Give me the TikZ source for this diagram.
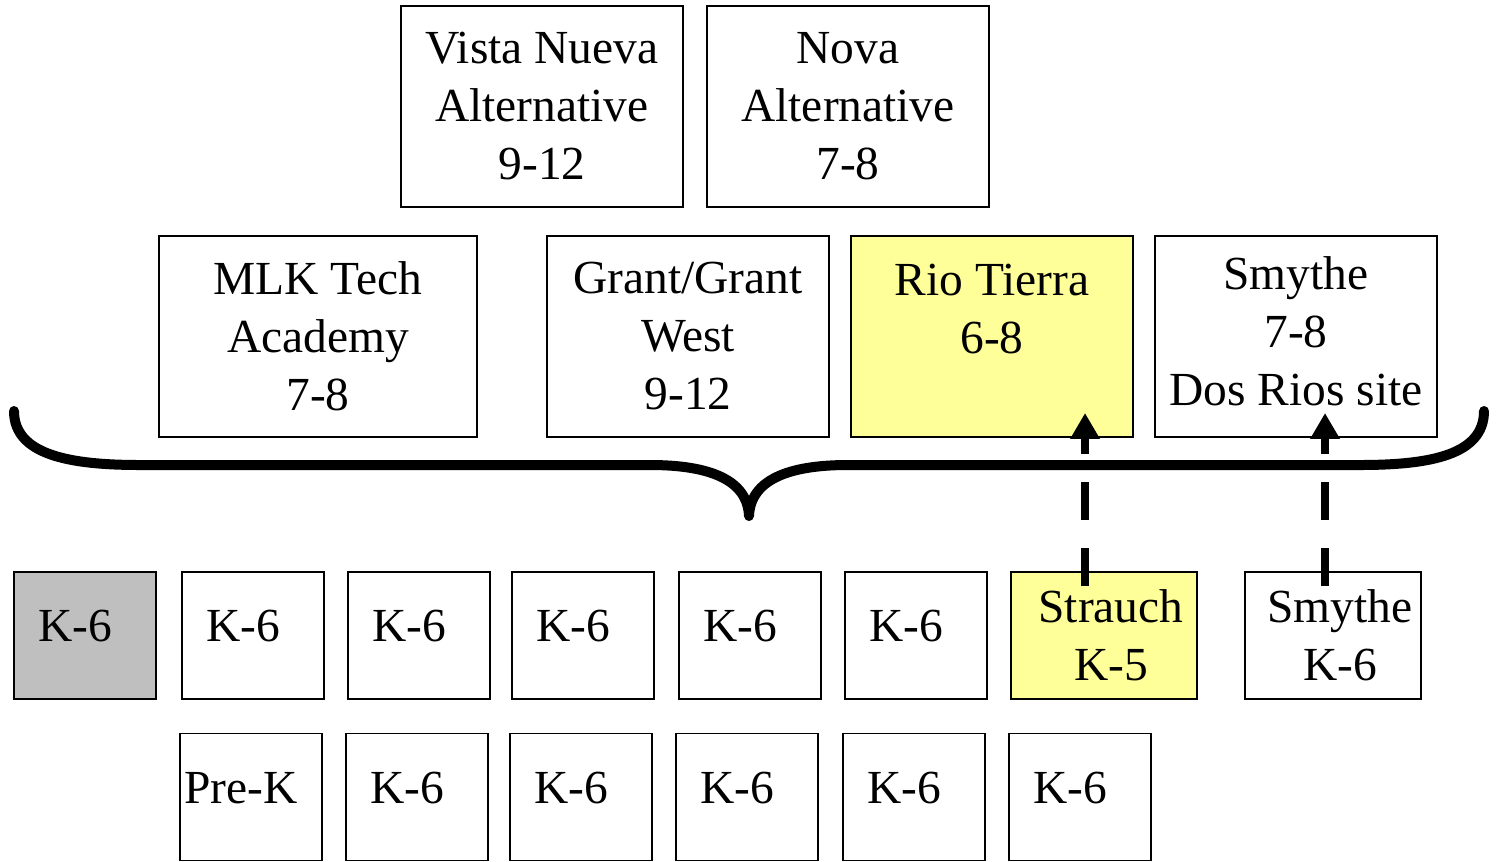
\documentclass[tikz,border=0pt]{standalone}
\usepackage{fontspec}
\setmainfont{Liberation Serif}
\usepackage{tikz}
\usetikzlibrary{calc,arrows.meta,positioning}
\definecolor{paleyellow}{rgb}{1.0, 1.0, 0.6}
\definecolor{silvergray}{rgb}{0.75, 0.75, 0.75}

\begin{document}
\begin{tikzpicture}
        \tikzstyle{school}=[draw,line width=1.1pt,minimum width=5.64cm,minimum height=4.02cm,
            inner sep=2pt,align=center,font=\fontsize{27}{33}\selectfont]
        \tikzstyle{elem}=[draw,line width=1.1pt,minimum width=2.84cm,minimum height=2.54cm,
            inner sep=2pt,text height=0.7cm,text depth=0.45cm,font=\fontsize{27}{33}\selectfont,
            execute at end node={\hspace*{0.4cm}}]
        \tikzstyle{elemtwo}=[draw,line width=1.1pt,minimum width=3.52cm,minimum height=2.54cm,
            inner sep=2pt,align=center,font=\fontsize{27}{33}\selectfont]
        \tikzstyle{dasharrow}=[line width=4.5pt,dash pattern=on 0.76cm off 0.56cm,
            -{Triangle[length=0.52cm,width=0.56cm]}]
        \newcommand{\indentline}{\hspace*{0.28cm}}
        \useasboundingbox (0,0) rectangle (29.98,-17.22);
        % alternative schools
        \node[school] (vista) at (10.84,-2.13) {Vista Nueva\\Alternative\\9-12};
        \node[school] (nova) at (16.96,-2.13) {Nova\\Alternative\\7-8};
        % secondary schools
        \node[school,minimum width=6.36cm] (mlk) at (6.36,-6.73) {MLK Tech\\Academy\\7-8};
        \node[school] (grant) at (13.76,-6.73) {Grant/Grant\\West\\9-12};
        \node[school,fill=paleyellow] (rio) at (19.84,-6.73) {Rio Tierra\\6-8\\[-0.4cm]\strut};
        \node[school] (smythe) at (25.92,-6.73) {Smythe\\7-8\\Dos Rios site\\[-1.28cm]\strut};
        % brace
        \draw[line width=0.2cm,line cap=round,line join=round]
            (0.28,-8.22) .. controls (0.28,-9.1) and (1.4,-9.3) .. (2.8,-9.3)
            -- (13.0,-9.3) .. controls (14.2,-9.3) and (14.95,-9.6) .. (14.98,-10.32)
            .. controls (15.01,-9.6) and (15.76,-9.3) .. (16.96,-9.3)
            -- (27.2,-9.3) .. controls (28.6,-9.3) and (29.68,-9.1) .. (29.68,-8.22);
        % elementary schools, first row
        \node[elem,fill=silvergray] (e1) at (1.70,-12.71) {K-6};
        \node[elem] (e2) at (5.06,-12.71) {K-6};
        \node[elem] (e3) at (8.38,-12.71) {K-6};
        \node[elem] (e4) at (11.66,-12.71) {K-6};
        \node[elem] (e5) at (15.00,-12.71) {K-6};
        \node[elem] (e6) at (18.32,-12.71) {K-6};
        \node[elemtwo,minimum width=3.72cm,fill=paleyellow] (strauch) at (22.08,-12.71)
            {\indentline Strauch\\\indentline K-5};
        \node[elemtwo] (smytheK) at (26.66,-12.71) {\indentline Smythe\\\indentline K-6};
        % elementary schools, second row
        \node[elem] (prek) at (5.02,-15.94) {Pre-K};
        \node[elem] (f2) at (8.34,-15.94) {K-6};
        \node[elem] (f3) at (11.62,-15.94) {K-6};
        \node[elem] (f4) at (14.94,-15.94) {K-6};
        \node[elem] (f5) at (18.28,-15.94) {K-6};
        \node[elem] (f6) at (21.60,-15.94) {K-6};
        % feeder arrows
        \coordinate (a1) at ($(strauch.north west)+(1.5,-0.3)$);
        \coordinate (a2) at ($(smytheK.north west)+(1.62,-0.3)$);
        \draw[dasharrow] (a1) -- ($(a1 |- rio.south)+(0,0.5)$);
        \draw[dasharrow] (a2) -- ($(a2 |- smythe.south)+(0,0.5)$);
    \end{tikzpicture}
\end{document}
